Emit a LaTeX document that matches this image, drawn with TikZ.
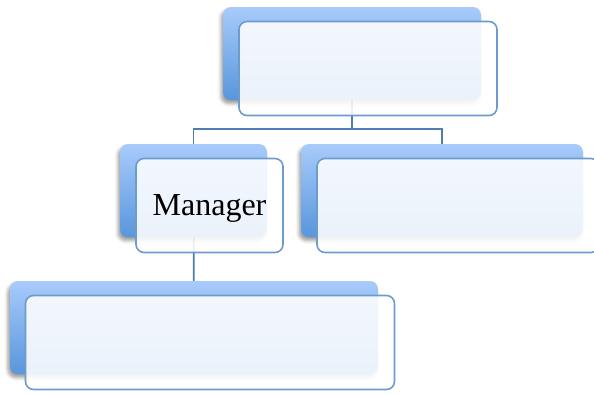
\documentclass[tikz,border=0pt]{standalone}
\usepackage{fontspec}
\setmainfont{Liberation Serif}
\usepackage{tikz}
\usetikzlibrary{shadows.blur, backgrounds}
\definecolor{backtop}{RGB}{168,203,251}
\definecolor{backbottom}{RGB}{88,150,220}
\definecolor{cardedge}{RGB}{108,155,206}
\definecolor{linkblue}{RGB}{79,125,176}

\begin{document}
\begin{tikzpicture}[
    back/.style={rounded corners=8pt, top color=backtop, bottom color=backbottom,
                 draw=none, minimum height=93pt, inner sep=0pt,
                 blur shadow={shadow xshift=-2pt, shadow yshift=-3.5pt,
                              shadow blur radius=3.5pt, shadow opacity=40}},
    card/.style={draw=cardedge, line width=1.6pt, rounded corners=8pt,
                 fill=white, fill opacity=0.88, text opacity=1,
                 minimum height=94pt, inner sep=0pt, text depth=0pt,
                 xshift=16pt, yshift=-15pt,
                 font=\fontsize{32}{38}\selectfont},
    link/.style={draw=linkblue, line width=1.7pt},
]
\useasboundingbox (0,0) rectangle (594pt,-394pt);

% ── Back boxes ─────────────────────────────────────────────────────────
\node[back, minimum width=258pt] (head)  at (352pt,-53.5pt)  {};
\node[back, minimum width=147pt] (mgr)   at (193.5pt,-190.5pt) {};
\node[back, minimum width=282pt] (peer)  at (442pt,-190.5pt) {};
\node[back, minimum width=368pt] (staff) at (194pt,-327.5pt) {};

% ── Connectors (behind everything) ─────────────────────────────────────
\begin{scope}[on background layer]
\draw[link] (head.center) -- ++(0,-75.5pt) coordinate (split) -| (mgr.center);
\draw[link] (split) -| (peer.center);
\draw[link] (mgr.center) -- (staff.center);
\end{scope}

% ── Front cards ────────────────────────────────────────────────────────
\node[card, minimum width=258pt] (headcard)  at (head)  {};
\node[card, minimum width=147pt] (mgrcard)   at (mgr)   {Manager};
\node[card, minimum width=282pt] (peercard)  at (peer)  {};
\node[card, minimum width=369pt] (staffcard) at (staff) {};

\end{tikzpicture}
\end{document}
